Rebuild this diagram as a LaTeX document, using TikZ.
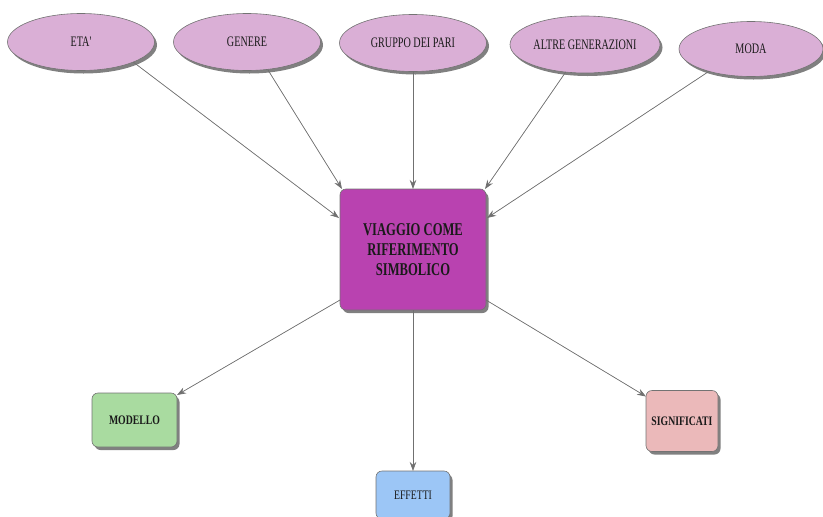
\documentclass[tikz,border=0pt]{standalone}
\usepackage{fontspec}
\setmainfont{Liberation Serif}
\newfontfamily\cf{Liberation Serif}[FakeStretch=0.70]
\newfontfamily\cg{Liberation Serif}[FakeStretch=0.75]
\usetikzlibrary{shapes.geometric,shadows,arrows.meta,calc}
\definecolor{ellfill}{HTML}{DAAFD6}
\definecolor{boxfill}{HTML}{B942B0}
\definecolor{greenfill}{HTML}{A9DBA0}
\definecolor{bluefill}{HTML}{9CC6F6}
\definecolor{pinkfill}{HTML}{EBB9BA}
\definecolor{edgegray}{HTML}{707070}
\definecolor{txt}{HTML}{1A1A1A}
\tikzset{
  shad/.style={drop shadow={shadow xshift=2.5pt,shadow yshift=-3pt,fill=black!50,opacity=1}},
  ell/.style={ellipse,shad,draw=black!55,line width=0.6pt,fill=ellfill,minimum width=147pt,minimum height=57pt,inner sep=0pt,outer sep=0pt,text=txt,font=\cf\fontsize{14.5}{16}\selectfont},
  mainbox/.style={rectangle,rounded corners=6pt,shad,draw=black!55,line width=0.6pt,fill=boxfill,minimum width=146pt,minimum height=121pt,inner sep=0pt,outer sep=0pt,text=txt,align=center,font=\cf\bfseries\fontsize{18}{20}\selectfont},
  leaf/.style={rectangle,rounded corners=6pt,shad,draw=black!55,line width=0.6pt,inner sep=0pt,outer sep=0pt,text=txt,font=\cg\fontsize{13}{15}\selectfont},
  arr/.style={draw=edgegray,line width=0.7pt,-{Stealth[length=9pt,width=6.5pt]},fill=edgegray}
}
\begin{document}
\begin{tikzpicture}[x=1pt,y=-1pt]
\useasboundingbox (0,0) rectangle (823,517);
\node[ell] (eta) at (81,42) {ETA'};
\node[ell] (genere) at (247,42) {GENERE};
\node[ell] (gruppo) at (413,43) {GRUPPO DEI PARI};
\node[ell,minimum width=150pt] (altre) at (585,44.5) {ALTRE GENERAZIONI};
\node[ell,minimum width=144pt,minimum height=55pt] (moda) at (751,49) {MODA};
\node[mainbox] (box) at (413,249.5) {VIAGGIO COME\\RIFERIMENTO\\SIMBOLICO};
\node[leaf,fill=greenfill,minimum width=85pt,minimum height=54pt,font=\cg\bfseries\fontsize{13}{15}\selectfont] (modello) at (134.5,420) {MODELLO};
\node[leaf,fill=bluefill,minimum width=74pt,minimum height=48pt] (effetti) at (413,495) {EFFETTI};
\node[leaf,fill=pinkfill,minimum width=72pt,minimum height=61pt,font=\cg\bfseries\fontsize{13}{15}\selectfont] (signif) at (682,421) {SIGNIFICATI};
\draw[arr] (eta.-21) -- ($(box.west)+(-1,-31.5)$);
\draw[arr] (genere.-53) -- ($(box.north west)+(2,0)$);
\draw[arr] (gruppo.south) -- (box.north);
\draw[arr] (altre.-125) -- ($(box.north east)+(-1,0)$);
\draw[arr] (moda.-152) -- ($(box.east)+(1,-31.5)$);
\draw[arr] ($(box.west)+(0,50.5)$) -- ($(modello.north east)+(0,2)$);
\draw[arr] (box.south) -- (effetti.north);
\draw[arr] ($(box.east)+(0,50.5)$) -- ($(signif.north west)+(0,6)$);
\end{tikzpicture}
\end{document}
